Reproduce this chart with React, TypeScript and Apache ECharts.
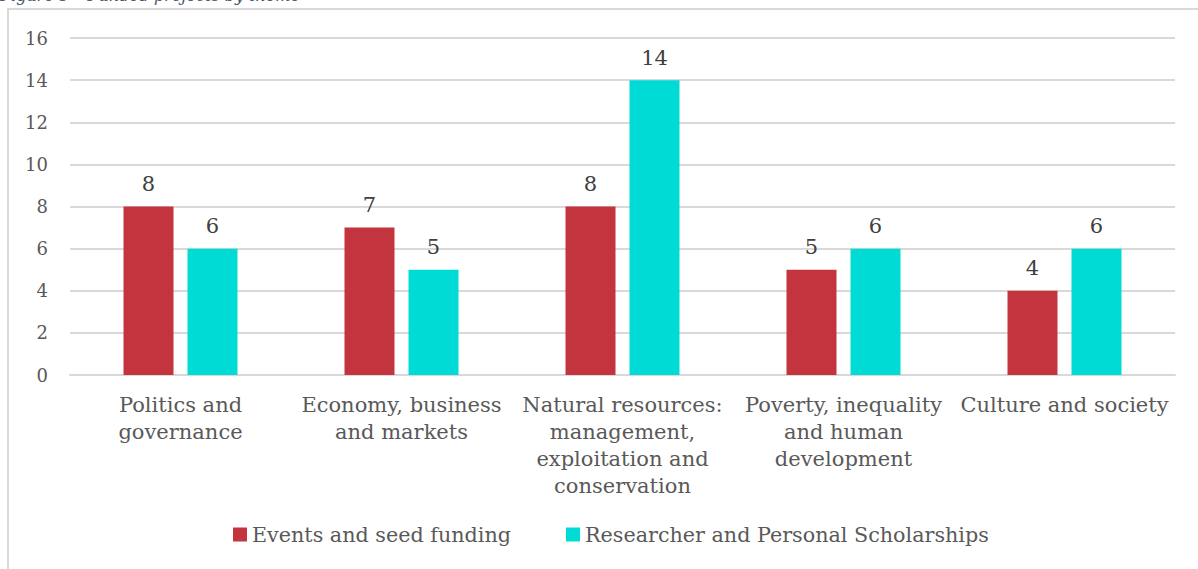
import React, { useEffect, useRef } from "react";
import * as echarts from "echarts";

const categories = [
  "Politics and\ngovernance",
  "Economy, business\nand markets",
  "Natural resources:\nmanagement,\nexploitation and\nconservation",
  "Poverty, inequality\nand human\ndevelopment",
  "Culture and society",
];
const seriesNames = ["Events and seed funding", "Researcher and Personal Scholarships"];
const eventsValues = [8, 7, 8, 5, 4];
const scholarshipValues = [6, 5, 14, 6, 6];
const captionText = "Figure 5 – Funded projects by theme";

const FONT = "DejaVu Serif";

export default function App() {
  const ref = useRef<HTMLDivElement>(null);
  useEffect(() => {
    if (!ref.current) return;
    const chart = echarts.init(ref.current, null, { renderer: "svg" });
    const labelStyle = {
      show: true,
      position: "top",
      distance: 12,
      fontFamily: FONT,
      fontSize: 21,
      color: "#404040",
    };
    chart.setOption({
      animation: false,
      backgroundColor: "#ffffff",
      textStyle: { fontFamily: FONT },
      graphic: [
        {
          type: "rect",
          shape: { x: 8, y: 9, width: 1300, height: 700 },
          style: { fill: "none", stroke: "#d9d9d9", lineWidth: 2 },
          silent: true,
        },
        {
          type: "text",
          x: 0,
          y: -13,
          style: {
            text: captionText,
            fontFamily: FONT,
            fontStyle: "italic",
            fontSize: 16,
            fill: "#44546a",
          },
          silent: true,
        },
      ],
      grid: { left: 70, right: 23, top: 38, bottom: 194, containLabel: false },
      legend: {
        bottom: 19,
        left: 228,
        itemWidth: 14,
        itemHeight: 14,
        itemGap: 55,
        icon: "rect",
        textStyle: { fontFamily: FONT, fontSize: 20.7, color: "#595959" },
        data: seriesNames,
      },
      xAxis: {
        type: "category",
        data: categories,
        axisLine: { show: true, lineStyle: { color: "#d9d9d9", width: 2 } },
        axisTick: { show: false },
        axisLabel: {
          interval: 0,
          margin: 16,
          fontFamily: FONT,
          fontSize: 21,
          lineHeight: 27,
          color: "#595959",
        },
      },
      yAxis: {
        type: "value",
        min: 0,
        max: 16,
        interval: 2,
        axisLine: { show: false },
        axisTick: { show: false },
        axisLabel: { fontFamily: FONT, fontSize: 18, color: "#595959", margin: 22 },
        splitLine: { lineStyle: { color: "#d9d9d9", width: 2 } },
      },
      series: [
        {
          name: seriesNames[0],
          type: "bar",
          data: eventsValues,
          itemStyle: { color: "#C3343F" },
          barWidth: 50,
          barGap: "28%",
          label: labelStyle,
        },
        {
          name: seriesNames[1],
          type: "bar",
          data: scholarshipValues,
          itemStyle: { color: "#00DCD5" },
          barWidth: 50,
          label: labelStyle,
        },
      ],
    });
    return () => chart.dispose();
  }, []);
  return (
    <div
      ref={ref}
      style={{ position: "fixed", left: 0, top: 0, width: 1198, height: 569 }}
    />
  );
}
